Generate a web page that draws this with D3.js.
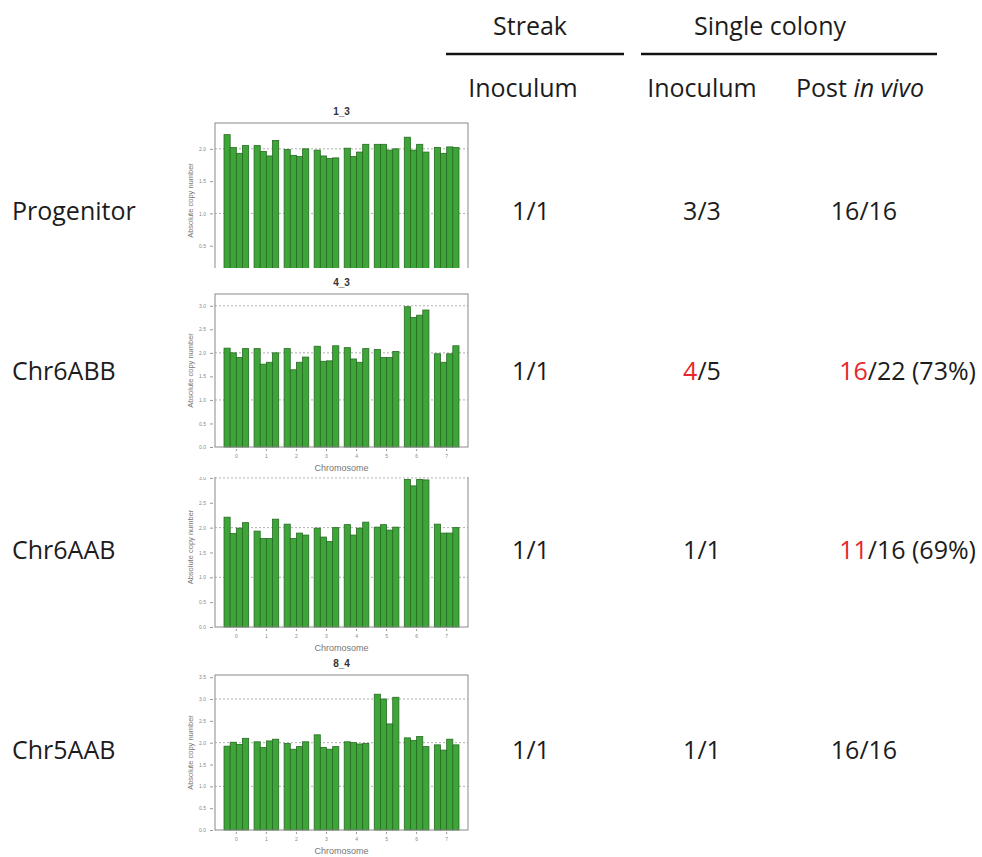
<!DOCTYPE html>
<html>
<head>
<meta charset="utf-8">
<script src="https://cdn.jsdelivr.net/npm/d3@7"></script>
<style>
  body { margin: 0; background: #fff; }
  svg { display: block; }
  .big { font-family: "Open Sans", "Noto Sans", sans-serif; font-size: 25px; fill: #1c1c1c; }
  .mini text { font-family: "Liberation Sans", Arial, sans-serif; }
</style>
</head>
<body>
<div id="chart"></div>
<script>
// ---- data ----
const chromosomes = ['0', '1', '2', '3', '4', '5', '6', '7'];
const strains = ['Progenitor', 'Chr6ABB', 'Chr6AAB', 'Chr5AAB'];
const panelTitles = ['1_3', '4_3', '', '8_4'];

// absolute copy number, 4 bars per chromosome
const copyProgenitor = [2.22,2.02,1.93,2.05, 2.05,1.96,1.89,2.13, 1.99,1.90,1.88,2.00, 1.98,1.89,1.85,1.86,
                        2.01,1.88,1.95,2.07, 2.07,2.07,1.98,2.00, 2.18,1.98,2.07,1.95, 2.02,1.93,2.03,2.02];
const copyChr6ABB    = [2.10,2.00,1.90,2.09, 2.09,1.76,1.80,2.00, 2.09,1.64,1.80,1.91, 2.14,1.82,1.83,2.15,
                        2.11,1.87,1.80,2.09, 2.07,1.90,1.90,2.03, 2.98,2.75,2.80,2.91, 1.98,1.80,1.98,2.15];
const copyChr6AAB    = [2.21,1.88,1.99,2.10, 1.93,1.78,1.78,2.17, 2.07,1.78,1.89,1.85, 1.99,1.81,1.72,2.00,
                        2.06,1.85,1.99,2.11, 2.01,2.06,1.95,2.01, 2.97,2.84,2.97,2.96, 2.07,1.89,1.89,2.00];
const copyChr5AAB    = [1.92,2.01,1.96,2.10, 2.02,1.89,2.04,2.08, 1.98,1.85,1.91,2.02, 2.18,1.89,1.85,1.91,
                        2.02,2.00,1.97,1.98, 3.11,3.00,2.43,3.04, 2.11,2.05,2.14,1.91, 1.95,1.83,2.08,1.95];
const copyNumbers = [copyProgenitor, copyChr6ABB, copyChr6AAB, copyChr5AAB];
const yMaxes = [2.4, 3.25, 3.22, 3.55];
const yTickMax = [2.0, 3.0, 3.0, 3.5];

// table cells: [highlighted part, rest]
const streakInoculum = [['', '1/1'], ['', '1/1'], ['', '1/1'], ['', '1/1']];
const colonyInoculum = [['', '3/3'], ['4', '/5'], ['', '1/1'], ['', '1/1']];
const postInVivo     = [['', '16/16'], ['16', '/22 (73%)'], ['11', '/16 (69%)'], ['', '16/16']];

// ---- layout ----
const W = 982, H = 857;
const svg = d3.select('#chart').append('svg').attr('width', W).attr('height', H);

// each mini plot is a cropped piece of a larger figure
const panels = [
  {y0: 278, top: 123, clip: [100, 268]},
  {y0: 447, top: 294, clip: [272, 472]},
  {y0: 627, top: 467, clip: [477, 652]},
  {y0: 830, top: 675, clip: [655, 857]}
];
const plotL = 215, plotR = 468;

const defs = svg.append('defs');
panels.forEach((p, i) => {
  defs.append('clipPath').attr('id', `clip${i}`)
    .append('rect').attr('x', 150).attr('y', p.clip[0])
    .attr('width', 340).attr('height', p.clip[1] - p.clip[0]);
});

const scaleX = d3.scaleBand(chromosomes, [plotL, plotR]).paddingInner(0.18).paddingOuter(0.3);
const scaleBar = d3.scaleBand(d3.range(4), [0, scaleX.bandwidth()]);

panels.forEach((p, i) => {
  const g = svg.append('g').attr('class', 'mini').attr('clip-path', `url(#clip${i})`);
  const scaleY = d3.scaleLinear([0, yMaxes[i]], [p.y0, p.top]);

  // dashed reference lines at integer copy numbers
  g.selectAll('line.ref')
    .data([1, 2, 3].filter(v => v < yMaxes[i]))
    .join('line').classed('ref', true)
    .attr('x1', plotL).attr('x2', plotR)
    .attr('y1', d => scaleY(d)).attr('y2', d => scaleY(d))
    .attr('stroke', '#9a9a9a').attr('stroke-width', 0.8).attr('stroke-dasharray', '2,2');

  const bars = copyNumbers[i].map((v, j) => ({chr: chromosomes[Math.floor(j / 4)], k: j % 4, v}));
  g.selectAll('rect.bar')
    .data(bars)
    .join('rect').classed('bar', true)
    .attr('x', d => scaleX(d.chr) + scaleBar(d.k))
    .attr('width', scaleBar.bandwidth())
    .attr('y', d => scaleY(d.v))
    .attr('height', d => scaleY(0) - scaleY(d.v))
    .attr('fill', '#3ea638').attr('stroke', '#266b22').attr('stroke-width', 0.8);

  // box
  g.append('rect')
    .attr('x', plotL).attr('y', p.top)
    .attr('width', plotR - plotL).attr('height', p.y0 - p.top)
    .attr('fill', 'none').attr('stroke', '#8a8a8a').attr('stroke-width', 1);

  const axisY = g.append('g').attr('transform', `translate(${plotL - 2},0)`)
    .call(d3.axisLeft(scaleY).tickValues(d3.range(0, yTickMax[i] + 0.01, 0.5))
      .tickSize(3).tickFormat(d3.format('.1f')));
  axisY.select('.domain').remove();
  axisY.selectAll('line').attr('stroke', '#999');
  axisY.selectAll('text').attr('font-size', 5).attr('fill', '#888').attr('dx', -1);

  const axisX = g.append('g').attr('transform', `translate(0,${p.y0 + 2})`)
    .call(d3.axisBottom(scaleX).tickSize(2));
  axisX.select('.domain').remove();
  axisX.selectAll('line').attr('stroke', '#999');
  axisX.selectAll('text').attr('font-size', 5).attr('fill', '#888');

  g.append('text')
    .attr('x', (plotL + plotR) / 2).attr('y', p.y0 + 24)
    .attr('text-anchor', 'middle').attr('font-size', 9).attr('fill', '#777')
    .text('Chromosome');

  g.append('text')
    .attr('transform', `translate(${plotL - 22},${(p.top + p.y0) / 2})rotate(-90)`)
    .attr('text-anchor', 'middle').attr('font-size', 7.5).attr('fill', '#777')
    .text('Absolute copy number');

  if (panelTitles[i]) {
    g.append('text')
      .attr('x', (plotL + plotR) / 2).attr('y', p.top - 8)
      .attr('text-anchor', 'middle').attr('font-size', 10).attr('font-weight', 'bold')
      .attr('fill', '#333')
      .text(panelTitles[i]);
  }
});

// ---- table ----
const header = svg.append('g');
header.append('text').attr('class', 'big').attr('x', 530).attr('y', 35)
  .attr('text-anchor', 'middle').text('Streak');
header.append('text').attr('class', 'big').attr('x', 770).attr('y', 35)
  .attr('text-anchor', 'middle').text('Single colony');
header.append('line').attr('x1', 446).attr('x2', 624).attr('y1', 54).attr('y2', 54)
  .attr('stroke', '#111').attr('stroke-width', 2.5);
header.append('line').attr('x1', 641).attr('x2', 937).attr('y1', 54).attr('y2', 54)
  .attr('stroke', '#111').attr('stroke-width', 2.5);
header.append('text').attr('class', 'big').attr('x', 523).attr('y', 97)
  .attr('text-anchor', 'middle').text('Inoculum');
header.append('text').attr('class', 'big').attr('x', 702).attr('y', 97)
  .attr('text-anchor', 'middle').text('Inoculum');
const post = header.append('text').attr('class', 'big').attr('x', 860).attr('y', 97)
  .attr('text-anchor', 'middle');
post.append('tspan').text('Post ');
post.append('tspan').attr('font-style', 'italic').text('in vivo');

const rowY = [220, 380, 559, 759];
svg.selectAll('text.strain')
  .data(strains)
  .join('text').attr('class', 'big strain')
  .attr('x', 12).attr('y', (d, i) => rowY[i])
  .text(d => d);

const columns = [
  {cells: streakInoculum, x: [531, 531, 531, 531], anchor: ['middle', 'middle', 'middle', 'middle']},
  {cells: colonyInoculum, x: [702, 702, 702, 702], anchor: ['middle', 'middle', 'middle', 'middle']},
  {cells: postInVivo, x: [864, 976, 976, 864], anchor: ['middle', 'end', 'end', 'middle']}
];
columns.forEach(col => {
  col.cells.forEach((c, i) => {
    const t = svg.append('text').attr('class', 'big')
      .attr('x', col.x[i]).attr('y', rowY[i]).attr('text-anchor', col.anchor[i]);
    if (c[0]) t.append('tspan').attr('fill', '#e8262b').text(c[0]);
    t.append('tspan').text(c[1]);
  });
});
</script>
</body>
</html>
